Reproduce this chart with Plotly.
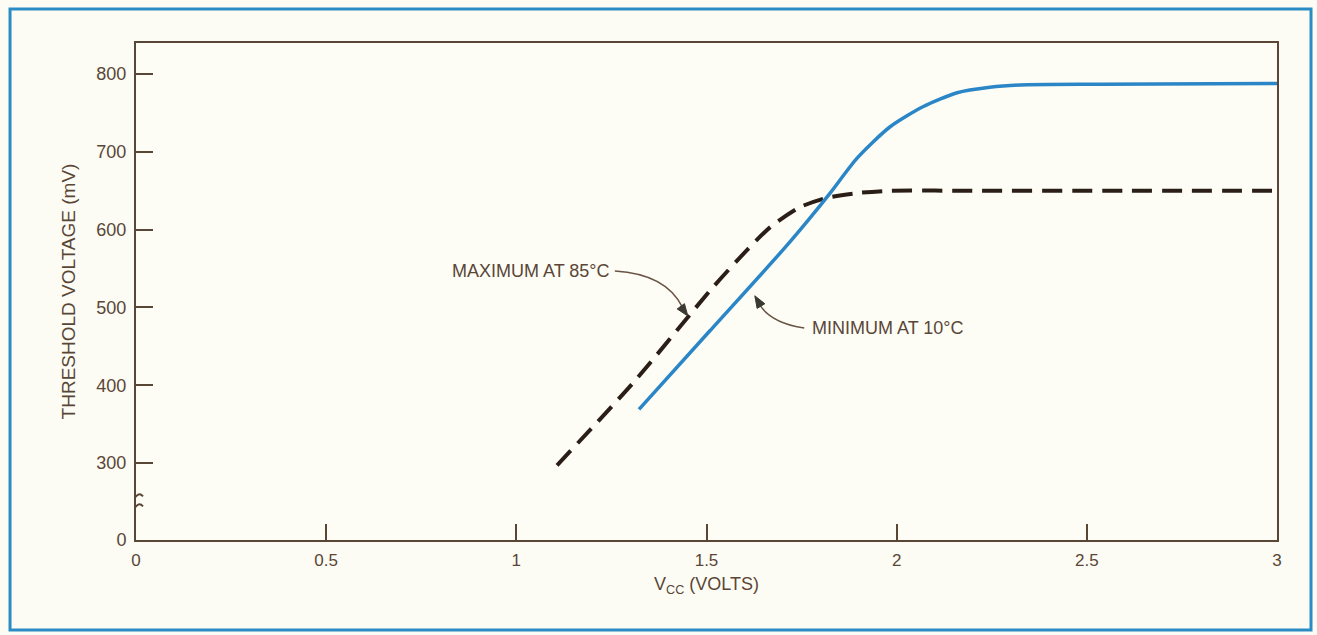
import math
import plotly.graph_objects as go

# ---- data ----
vcc_max85 = [1.107, 1.307, 1.517, 1.607, 1.667, 1.746, 1.817, 1.896, 1.982, 2.2, 2.6, 3.0]
mv_max85 = [297, 403, 526, 574, 603, 629, 641, 647, 650, 650, 650, 650]

vcc_min10 = [1.3225, 1.509, 1.701, 1.767, 1.825, 1.896, 1.982, 2.069, 2.159, 2.245, 2.324, 2.535, 3.0]
mv_min10 = [369, 470, 574, 612, 647, 692, 732, 758, 776, 783, 786, 787, 788]

x_tick_vals = [0, 0.5, 1, 1.5, 2, 2.5, 3]
x_tick_text = ["0", "0.5", "1", "1.5", "2", "2.5", "3"]
y_zero_pos = 201  # broken axis: "0" drawn below the break
y_tick_vals = [y_zero_pos, 300, 400, 500, 600, 700, 800]
y_tick_text = ["0", "300", "400", "500", "600", "700", "800"]

TXT = "#5a4636"
FONT = "Liberation Sans, Arial, sans-serif"

fig = go.Figure()
fig.add_trace(go.Scatter(x=vcc_max85, y=mv_max85, mode="lines",
                         line=dict(color="#2b1e17", width=4, dash="20px,10px", shape="spline", smoothing=0.7),
                         name="MAXIMUM AT 85°C", showlegend=False, hoverinfo="skip"))
fig.add_trace(go.Scatter(x=vcc_min10, y=mv_min10, mode="lines",
                         line=dict(color="#2a86c6", width=3.5, shape="spline", smoothing=0.7),
                         name="MINIMUM AT 10°C", showlegend=False, hoverinfo="skip"))

fig.update_layout(
    width=1317, height=635,
    margin=dict(l=136, r=40, t=43, b=95),
    paper_bgcolor="#fcfcf4", plot_bgcolor="#fdfdf6",
    font=dict(family=FONT, color=TXT, size=18),
    xaxis=dict(range=[0, 3], tickvals=x_tick_vals, ticktext=x_tick_text,
               ticks="inside", ticklen=16, tickwidth=1.5, tickcolor=TXT,
               showline=True, linecolor=TXT, linewidth=2, mirror=True,
               showgrid=False, zeroline=False, ticklabelstandoff=4,
               tickfont=dict(size=17),
               title=dict(text="V<sub>CC</sub> (VOLTS)", standoff=8, font=dict(size=18))),
    yaxis=dict(range=[y_zero_pos, 840], tickvals=y_tick_vals, ticktext=y_tick_text,
               ticks="inside", ticklen=17, tickwidth=1.5, tickcolor=TXT,
               showline=True, linecolor=TXT, linewidth=2, mirror=True,
               showgrid=False, zeroline=False, ticklabelstandoff=4,
               tickfont=dict(size=18),
               title=dict(text="THRESHOLD VOLTAGE (mV)", standoff=16, font=dict(size=19))),
)

# axis break squiggle on the left axis
fig.add_shape(type="rect", xref="x", yref="y", xsizemode="pixel", xanchor=0,
              x0=-3, x1=3, y0=246, y1=258, fillcolor="#fdfdf6", line=dict(width=0), layer="above")
fig.add_shape(type="path", xref="x", yref="y", xsizemode="pixel", xanchor=0,
              ysizemode="pixel", yanchor=252,
              path="M -7,-6 Q -3.5,-10 0,-6 T 7,-6 M -7,4 Q -3.5,0 0,4 T 7,4",
              line=dict(color=TXT, width=2), layer="above")

# outer blue frame
fig.add_shape(type="rect", xref="paper", yref="paper",
              x0=-0.1104, x1=1.0298, y0=-0.181, y1=1.0684,
              line=dict(color="#2a8cc4", width=3), layer="above")


def arrowhead(tip_x, tip_y, dx, dy, length=12, half=4.5, color="#3c3a30"):
    """Filled triangular head at (tip_x, tip_y); (dx, dy) = screen direction (y down)."""
    n = math.hypot(dx, dy)
    ux, uy = dx / n, -dy / n          # convert to y-up pixel frame
    px, py = -uy, ux
    bx, by = -ux * length, -uy * length
    path = (f"M 0,0 L {bx + px * half:.2f},{by + py * half:.2f} "
            f"L {bx - px * half:.2f},{by - py * half:.2f} Z")
    fig.add_shape(type="path", xref="x", yref="y", xsizemode="pixel", ysizemode="pixel",
                  xanchor=tip_x, yanchor=tip_y, path=path,
                  fillcolor=color, line=dict(color=color, width=1), layer="above")


# labels with curved leaders
fig.add_annotation(x=1.2516, y=547, xref="x", yref="y", text="MAXIMUM AT 85°C",
                   showarrow=False, xanchor="right", yanchor="middle", font=dict(size=18, color=TXT))
fig.add_shape(type="path", xref="x", yref="y",
              path="M 1.259,547 Q 1.395,543 1.437,500", line=dict(color="#6a5446", width=1.5))
arrowhead(1.451, 489, 8, 11)

fig.add_annotation(x=1.772, y=473.5, xref="x", yref="y", text="MINIMUM AT 10°C",
                   showarrow=False, xanchor="left", yanchor="middle", font=dict(size=18, color=TXT))
fig.add_shape(type="path", xref="x", yref="y",
              path="M 1.757,473.5 Q 1.672,480 1.642,502", line=dict(color="#6a5446", width=1.5))
arrowhead(1.627, 515, -6, -10)

fig.write_html("out.html", config={"displayModeBar": False},
               post_script="document.body.style.margin='0';")
